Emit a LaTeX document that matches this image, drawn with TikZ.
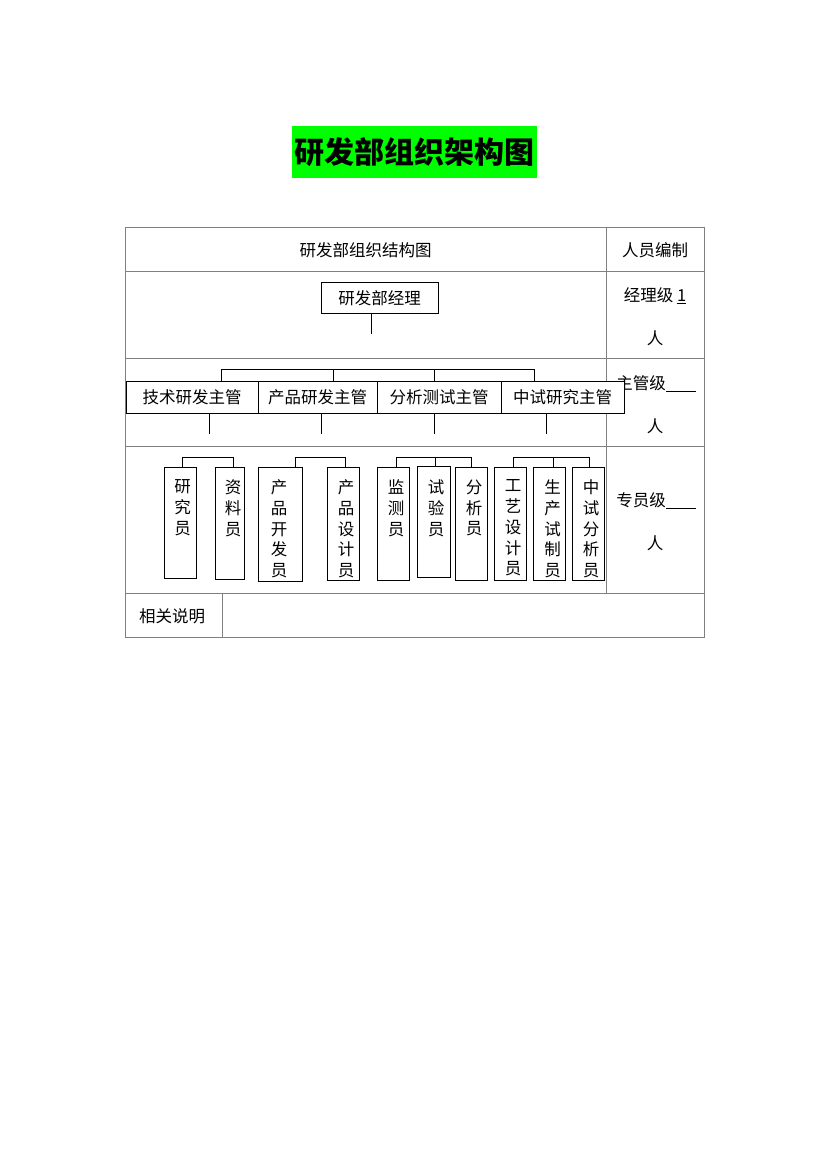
\documentclass[tikz,border=0pt]{standalone}
\usepackage{fontspec}
\newfontfamily\cjk{Noto Sans CJK SC}
\definecolor{tblgray}{RGB}{128,128,128}
\definecolor{titlegreen}{RGB}{0,255,0}
\begin{document}
\begin{tikzpicture}[x=1pt,y=-1pt,
  txt/.style={inner sep=0pt, font=\cjk\fontsize{16.5}{20.5}\selectfont},
  vtxt/.style={inner sep=0pt, anchor=north, align=center, font=\cjk\fontsize{16.5}{20.8}\selectfont},
  tbl/.style={draw=tblgray, line width=1pt},
  supbox/.style={draw=black, fill=white, line width=0.9pt, inner sep=0pt, minimum height=32pt, font=\cjk\fontsize{16.5}{20.5}\selectfont},
  staffbox/.style={draw=black, fill=white, line width=0.9pt, inner sep=0pt, anchor=north west},
  conn/.style={draw=black, line width=0.9pt}
]
\useasboundingbox (0,0) rectangle (830,1173);
\fill[white] (0,0) rectangle (830,1173);

% title
\node[fill=titlegreen, inner sep=0pt, minimum width=245pt, minimum height=52pt,
      font=\cjk\bfseries\fontsize{30}{34}\selectfont] (title) at (414.5,152) {研发部组织架构图};

% table frame
\draw[tbl] (125,227) rectangle (704,637);
\draw[tbl] (125,271) -- (704,271);
\draw[tbl] (125,358) -- (704,358);
\draw[tbl] (125,446) -- (704,446);
\draw[tbl] (125,593) -- (704,593);
\draw[tbl] (606,227) -- (606,593);
\draw[tbl] (222,593) -- (222,637);

% header texts
\node[txt] (hdr) at (365.5,250) {研发部组织结构图};
\node[txt] (hdr2) at (655,250) {人员编制};
\node[txt] (r1a) at (655,296) {经理级 \underline{1}};
\node[txt] (r1b) at (655,338) {人};
\node[txt] (r2a) at (656,384) {主管级\rule[-2pt]{30pt}{0.8pt}};
\node[txt] (r2b) at (655,426) {人};
\node[txt] (r3a) at (656,501) {专员级\rule[-2pt]{30pt}{0.8pt}};
\node[txt] (r3b) at (655,543) {人};
\node[txt] (note) at (172,616) {相关说明};

% manager
\node[supbox, minimum width=117pt, minimum height=31pt] (mgr) at (379.5,298) {研发部经理};
\coordinate (mgrend) at (371,334);
\draw[conn] (mgr.south -| mgrend) -- (mgrend);

% supervisors
\node[supbox, minimum width=132pt] (sup1) at (192,397) {技术研发主管};
\node[supbox, minimum width=119pt] (sup2) at (317.5,397) {产品研发主管};
\node[supbox, minimum width=124pt] (sup3) at (439,397) {分析测试主管};
\node[supbox, minimum width=123pt] (sup4) at (562.5,397) {中试研究主管};

\coordinate (ba) at (221,369.5);
\coordinate (bb) at (333,369.5);
\coordinate (bc) at (434,369.5);
\coordinate (bd) at (534,369.5);
\draw[conn] (ba |- sup1.north) -- (ba) -- (bd) -- (bd |- sup4.north);
\draw[conn] (bb) -- (bb |- sup2.north);
\draw[conn] (bc) -- (bc |- sup3.north);

\coordinate (da) at (209,434);
\coordinate (db) at (321,434);
\coordinate (dc) at (434,434);
\coordinate (dd) at (546,434);
\draw[conn] (da |- sup1.south) -- (da);
\draw[conn] (db |- sup2.south) -- (db);
\draw[conn] (dc |- sup3.south) -- (dc);
\draw[conn] (dd |- sup4.south) -- (dd);

% staff boxes
\node[staffbox, minimum width=32pt, minimum height=111pt] (s1) at (164,467) {};
\node[staffbox, minimum width=29pt, minimum height=112pt] (s2) at (215,467) {};
\node[staffbox, minimum width=43.5pt, minimum height=114pt] (s3) at (258,467) {};
\node[staffbox, minimum width=32pt, minimum height=113pt] (s4) at (327,467) {};
\node[staffbox, minimum width=32pt, minimum height=113pt] (s5) at (377,467) {};
\node[staffbox, minimum width=33.5pt, minimum height=111pt] (s6) at (416.5,466) {};
\node[staffbox, minimum width=32pt, minimum height=113pt] (s7) at (455,467) {};
\node[staffbox, minimum width=32pt, minimum height=113pt] (s8) at (494,467) {};
\node[staffbox, minimum width=32pt, minimum height=113pt] (s9) at (533,467) {};
\node[staffbox, minimum width=32pt, minimum height=113pt] (s10) at (572,467) {};

\node[vtxt] (t1) at (182.5,479.5) {研\\究\\员};
\node[vtxt] (t2) at (233,479.5) {资\\料\\员};
\node[vtxt] (t3) at (279,479.5) {产\\品\\开\\发\\员};
\node[vtxt] (t4) at (346,479.5) {产\\品\\设\\计\\员};
\node[vtxt] (t5) at (396,479.5) {监\\测\\员};
\node[vtxt] (t6) at (436,479.5) {试\\验\\员};
\node[vtxt] (t7) at (474,479.5) {分\\析\\员};
\node[vtxt] (t8) at (513,479.5) {工\\艺\\设\\计\\员};
\node[vtxt] (t9) at (552.5,479.5) {生\\产\\试\\制\\员};
\node[vtxt] (t10) at (591,479.5) {中\\试\\分\\析\\员};

% staff brackets
\coordinate (k1a) at (182.5,457);
\coordinate (k1b) at (233,457);
\draw[conn] (k1a |- s1.north) -- (k1a) -- (k1b) -- (k1b |- s2.north);
\coordinate (k2a) at (295,457);
\coordinate (k2b) at (345.5,457);
\draw[conn] (k2a |- s3.north) -- (k2a) -- (k2b) -- (k2b |- s4.north);
\coordinate (k3a) at (396,457);
\coordinate (k3b) at (435,457);
\coordinate (k3c) at (471.5,457);
\draw[conn] (k3a |- s5.north) -- (k3a) -- (k3c) -- (k3c |- s7.north);
\draw[conn] (k3b) -- (k3b |- s6.north);
\coordinate (k4a) at (513.5,457);
\coordinate (k4b) at (553,457);
\coordinate (k4c) at (589,457);
\draw[conn] (k4a |- s8.north) -- (k4a) -- (k4c) -- (k4c |- s10.north);
\draw[conn] (k4b) -- (k4b |- s9.north);
\end{tikzpicture}
\end{document}
